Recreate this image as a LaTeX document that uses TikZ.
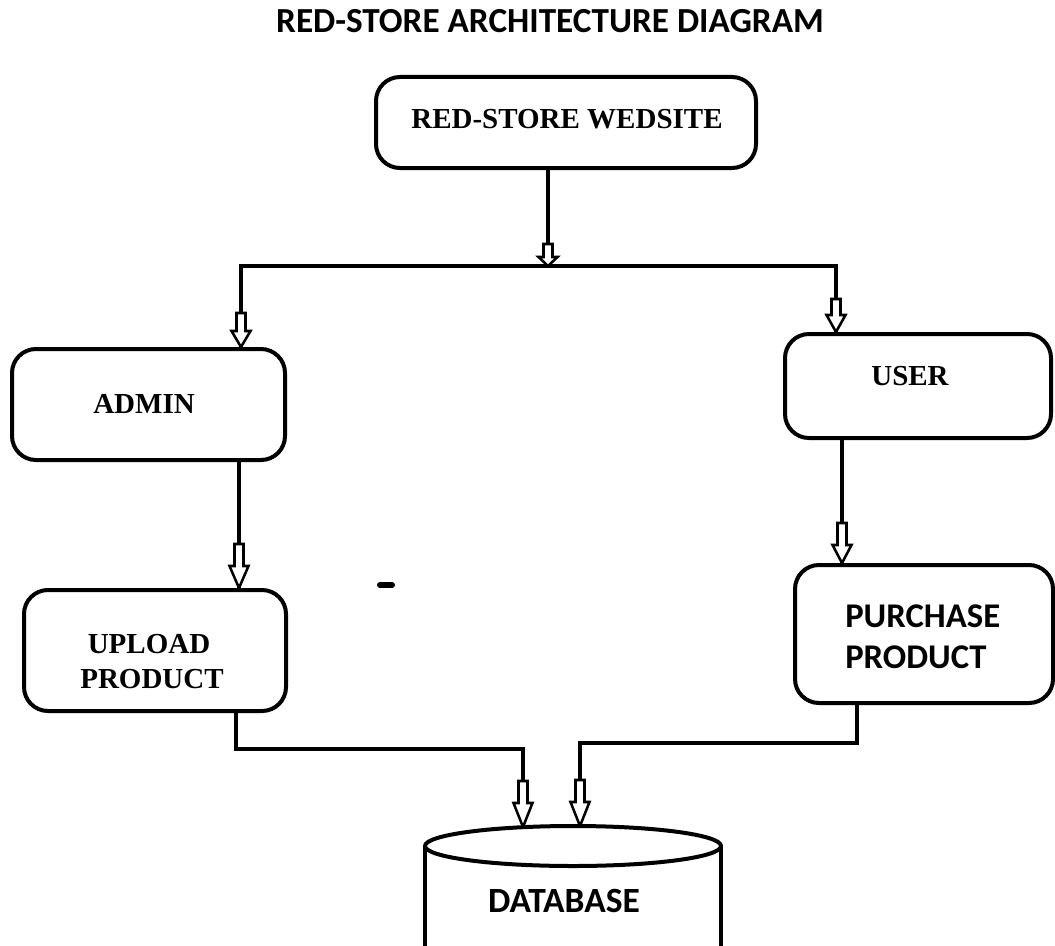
\documentclass[tikz,border=0pt]{standalone}
\usepackage{fontspec}
\setmainfont{Liberation Serif}
\newfontfamily\calibrifont{Carlito}
\usetikzlibrary{fit,decorations.markings}

% hollow block arrow head pointing along the path: #1 shaft length, #2 head length
\newcommand\hollowhead[2]{%
  \filldraw[fill=white, draw=black, line width=1.9pt, line join=miter]
    (0,0) -- (-#2,9.5) -- (-#2,4.5) -- ({-#2-#1},4.5) -- ({-#2-#1},-4.5)
    -- (-#2,-4.5) -- (-#2,-9.5) -- cycle;}

\tikzset{
  box/.style={draw, fill=white, line width=3pt, rounded corners=18pt, inner sep=0pt},
  conn/.style={line width=3pt},
  tipped/.style 2 args={postaction={decorate, decoration={markings,
      mark=at position 1 with {\hollowhead{#1}{#2}}}}},
  serif/.style={font=\bfseries\fontsize{21.75}{26}\selectfont, inner sep=0pt, anchor=base},
  sans/.style={font=\calibrifont\bfseries\fontsize{26}{31}\selectfont, inner sep=0pt, anchor=base},
}

\begin{document}
\begin{tikzpicture}[x=0.75pt, y=-0.75pt]
\useasboundingbox (0,0) rectangle (1055,945);

% boxes
\node[box, fit={(376,77) (756,168)}] (web) {};
\node[box, fit={(12,349) (285,460)}] (admin) {};
\node[box, fit={(24,590) (286,711)}] (upload) {};
\node[box, fit={(785,334) (1051,438)}] (user) {};
\node[box, fit={(795,565) (1053,703)}] (purchase) {};

% labels
\node[sans, font=\calibrifont\bfseries\fontsize{26.4}{31}\selectfont] (title) at (550,33) {RED-STORE ARCHITECTURE DIAGRAM};
\node[serif] (webtext) at (567,128) {RED-STORE WEDSITE};
\node[serif] (admintext) at (144,413) {ADMIN};
\node[serif] (usertext) at (910,385) {USER};
\node[serif] (upl1) at (149,653) {UPLOAD};
\node[serif] (upl2) at (152,688) {PRODUCT};
\node[sans, anchor=base west] (pur1) at (845,627) {PURCHASE};
\node[sans, anchor=base west] (pur2) at (845,668) {PRODUCT};

% routing points
\coordinate (split) at (548,266);
\coordinate (splitL) at (241,266);
\coordinate (splitR) at (836,266);
\coordinate (colA) at (239,0);
\coordinate (colU) at (842,0);
\coordinate (colUp) at (236,0);
\coordinate (colP) at (857,0);
\coordinate (joinL) at (523,749);
\coordinate (joinR) at (580,743);
\coordinate (dbL) at (523,827);
\coordinate (dbR) at (580,826);

% connectors
\draw[conn, tipped={13}{9}] (web.south -| split) -- (split);
\draw[conn, line cap=rect] (splitL) -- (splitR);
\draw[conn, tipped={18}{16}] (splitL) -- (splitL |- admin.north);
\draw[conn, tipped={16}{17}] (splitR) -- (splitR |- user.north);
\draw[conn, tipped={22}{22}] (admin.south -| colA) -- (upload.north -| colA);
\draw[conn, tipped={22}{18}] (user.south -| colU) -- (purchase.north -| colU);
\draw[conn, tipped={22}{24}] (upload.south -| colUp) |- (joinL) -- (dbL);
\draw[conn, tipped={22}{24}] (purchase.south -| colP) |- (joinR) -- (dbR);

% database cylinder
\coordinate (db) at (573,846);
\coordinate (dbW) at (425,846);
\coordinate (dbE) at (721,846);
\draw[conn] (dbW) -- ++(0,120);
\draw[conn] (dbE) -- ++(0,120);
\draw[conn, fill=white] (db) ellipse [x radius=148, y radius=20];
\node[sans, font=\calibrifont\bfseries\fontsize{26.6}{31}\selectfont] (dbtext) at (564,912) {DATABASE};

% short stroke between the columns
\draw[line width=4.5pt, line cap=round] (380,585) -- (392,585);
\end{tikzpicture}
\end{document}
